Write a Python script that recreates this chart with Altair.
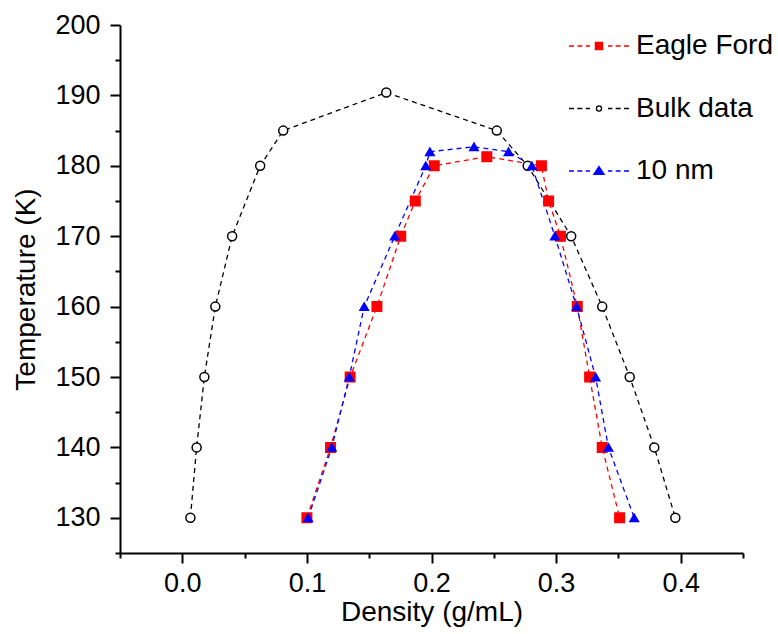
import altair as alt
import pandas as pd

# ---- data ----
series_order = ["Bulk data", "Eagle Ford", "10 nm"]          # draw order
legend_order = ["Eagle Ford", "Bulk data", "10 nm"]          # legend order

bulk_density = [0.0065, 0.0115, 0.0177, 0.0265, 0.040, 0.0625, 0.081, 0.1637,
                0.2524, 0.2772, 0.3121, 0.337, 0.3591, 0.3788, 0.3957]
bulk_temp = [130, 140, 150, 160, 170, 180, 185, 190.4, 185, 180, 170, 160, 150, 140, 130]

ef_density = [0.100, 0.119, 0.1347, 0.1562, 0.1753, 0.187, 0.2022, 0.2444,
              0.2882, 0.294, 0.3035, 0.317, 0.3269, 0.337, 0.351]
ef_temp = [130, 140, 150, 160, 170, 175, 180, 181.3, 180, 175, 170, 160, 150, 140, 130]

nm_density = [0.101, 0.120, 0.134, 0.146, 0.1705, 0.1954, 0.1987, 0.2341,
              0.2618, 0.2806, 0.299, 0.3164, 0.3317, 0.342, 0.3627]
nm_temp = [130, 140, 150, 160, 170, 180, 182, 182.7, 182, 180, 170, 160, 150, 140, 130]

x_ticks = [-0.05, 0.0, 0.05, 0.1, 0.15, 0.2, 0.25, 0.3, 0.35, 0.4, 0.45]
y_ticks = [125, 130, 135, 140, 145, 150, 155, 160, 165, 170, 175, 180, 185, 190, 195, 200]

series_data = {
    "Bulk data": (bulk_density, bulk_temp),
    "Eagle Ford": (ef_density, ef_temp),
    "10 nm": (nm_density, nm_temp),
}

rows = []
for name in series_order:
    dens, temps = series_data[name]
    for i, (d, t) in enumerate(zip(dens, temps)):
        rows.append({"series": name, "density": d, "temperature": t, "idx": i})
df = pd.DataFrame(rows)

# ---- styles ----
FONT = "Liberation Sans"
stroke_range = ["#ff0000", "#000000", "#0000ff"]
fill_range = ["#ff0000", "#ffffff", "#0000ff"]
shape_range = ["square", "circle", "triangle-up"]
size_range = [90, 72, 150]

dashes = ("M-1,0L-0.833,0M-0.722,0L-0.556,0M-0.444,0L-0.3,0"
          "M0.3,0L0.444,0M0.556,0L0.722,0M0.833,0L1,0")
legend_paths = [
    dashes + "M-0.12,-0.12L0.12,-0.12L0.12,0.12L-0.12,0.12Z",
    dashes + "M0.085,0A0.085,0.085 0 1,1 -0.085,0A0.085,0.085 0 1,1 0.085,0Z",
    dashes + "M0,-0.15L0.17,0.11L-0.17,0.11Z",
]

major_x = "abs(datum.value*10 - round(datum.value*10)) < 0.001"
major_y = "datum.value % 10 === 0"

x_axis = alt.Axis(
    values=x_ticks,
    labelExpr=f"{major_x} ? format(datum.value, '.1f') : ''",
    tickSize={"condition": {"test": major_x, "value": 10}, "value": 5},
    title="Density (g/mL)",
    grid=False,
    labelPadding=7,
    titlePadding=2,
)
y_axis = alt.Axis(
    values=y_ticks,
    labelExpr=f"{major_y} ? datum.label : ''",
    tickSize={"condition": {"test": major_y, "value": 10}, "value": 5},
    title="Temperature (K)",
    grid=False,
    labelPadding=10,
    titlePadding=14,
)

x_enc = alt.X("density:Q", scale=alt.Scale(domain=[-0.05, 0.45], nice=False, zero=False), axis=x_axis)
y_enc = alt.Y("temperature:Q", scale=alt.Scale(domain=[125, 200], nice=False, zero=False), axis=y_axis)

base = alt.Chart(df)

lines = base.mark_line(strokeDash=[5, 4], strokeWidth=1.3).encode(
    x=x_enc,
    y=y_enc,
    stroke=alt.Stroke("series:N", scale=alt.Scale(domain=legend_order, range=stroke_range), legend=None),
    detail="series:N",
    order=alt.Order("idx:Q"),
)

points = base.mark_point(filled=True, opacity=1, strokeWidth=1.5).encode(
    x=x_enc,
    y=y_enc,
    fill=alt.Fill("series:N", scale=alt.Scale(domain=legend_order, range=fill_range), legend=None),
    stroke=alt.Stroke("series:N", scale=alt.Scale(domain=legend_order, range=stroke_range), legend=None),
    shape=alt.Shape("series:N", scale=alt.Scale(domain=legend_order, range=shape_range), legend=None),
    size=alt.Size("series:N", scale=alt.Scale(domain=legend_order, range=size_range), legend=None),
)

leg = alt.Legend(
    title=None,
    orient="none",
    legendX=448,
    legendY=-10,
    labelFontSize=28,
    labelFont=FONT,
    labelColor="black",
    labelOffset=6,
    labelLimit=400,
    symbolSize=3600,
    symbolStrokeWidth=1.3,
    rowPadding=17.5,
    padding=0,
)

legend_layer = base.transform_filter("false").mark_point(filled=True, opacity=1).encode(
    x=x_enc,
    y=y_enc,
    fill=alt.Fill("series:N", scale=alt.Scale(domain=legend_order, range=fill_range), legend=leg),
    stroke=alt.Stroke("series:N", scale=alt.Scale(domain=legend_order, range=stroke_range), legend=leg),
    shape=alt.Shape("series:N", scale=alt.Scale(domain=legend_order, range=legend_paths), legend=leg),
)

chart = (
    alt.layer(lines, points, legend_layer)
    .resolve_scale(shape="independent", fill="independent", stroke="independent", size="independent")
    .properties(
        width=623,
        height=528,
        autosize=alt.AutoSizeParams(type="none"),
        padding={"left": 120, "top": 25, "right": 35, "bottom": 81},
        background="white",
    )
    .configure_view(stroke=None)
    .configure_axis(
        domainColor="black",
        domainWidth=2,
        tickColor="black",
        tickWidth=2,
        labelFont=FONT,
        labelFontSize=27,
        labelColor="black",
        titleFont=FONT,
        titleFontSize=28,
        titleFontWeight="normal",
        titleColor="black",
    )
)

chart.save("out.html", embed_options={"renderer": "svg", "actions": False})
